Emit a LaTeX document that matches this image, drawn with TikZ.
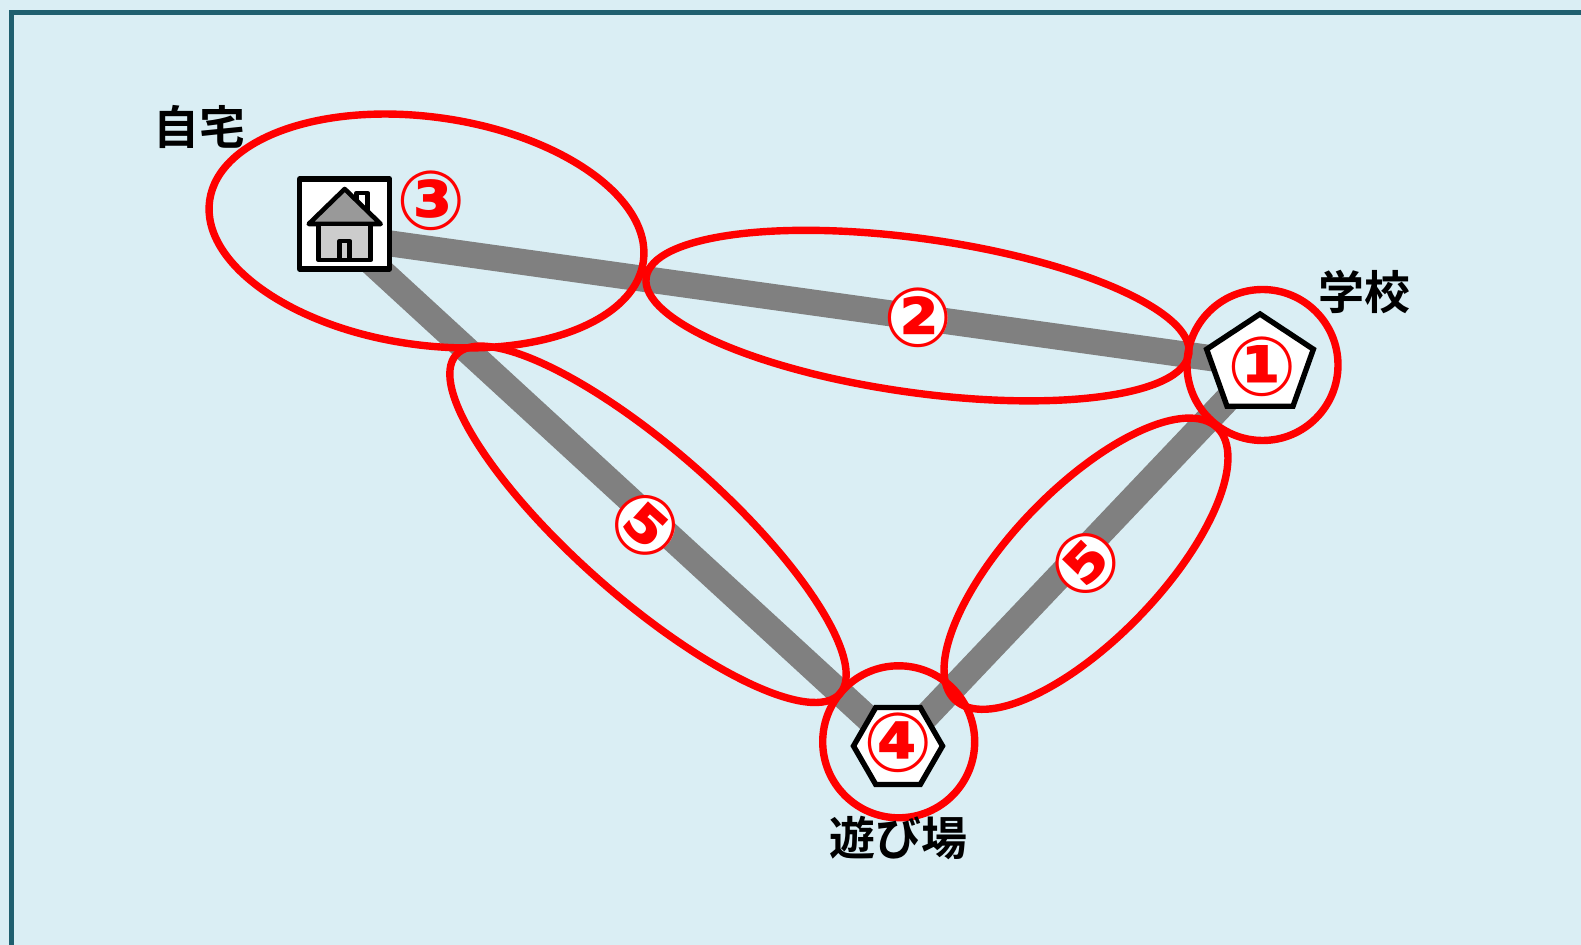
\documentclass[tikz,border=0pt]{standalone}
\usepackage{fontspec}
\usepackage{xcolor}
\usetikzlibrary{shapes.geometric,backgrounds}
\setmainfont{Noto Sans CJK JP}[BoldFont={Noto Sans CJK JP Bold}]
\newfontfamily\numfont{DejaVu Sans}
\definecolor{frameteal}{HTML}{1F5F6F}
\definecolor{skyback}{HTML}{DAEEF4}
\definecolor{roadgray}{HTML}{808080}
\begin{document}
\begin{tikzpicture}[x=0.5pt, y=-0.5pt]
  \tikzset{
    road/.style={draw=roadgray, line width=13pt},
    ring/.style={draw=red, line width=3.7pt},
    site/.style={draw, fill=white, line width=2.7pt, inner sep=0pt},
    place/.style={font=\bfseries\fontsize{23pt}{24pt}\selectfont},
    num/.style={text=red, inner sep=0pt, font=\numfont\bfseries\fontsize{41pt}{43pt}\selectfont}
  }
  \useasboundingbox (0, 0) rectangle (1581, 945);

  \node [site, rectangle, line join=round, minimum size=45pt] (home) at (344.7, 224) {};
  \node [site, regular polygon, regular polygon sides=5, minimum size=51pt, xscale=1.1, transform shape] (school) at (1260, 365) {};
  \node [site, regular polygon, regular polygon sides=6, minimum size=44.5pt] (park) at (898, 746) {};
  \coordinate (homeport) at (344, 237);

  % house
  \begin{scope}[shift={(home.center)}, line width=2.3pt, line join=round]
    \draw [fill=white] (12, -20) -- (12, -31) -- (23, -31) -- (23, -12);
    \draw [fill=gray!80] (-36, 0) -- (0, -35) -- (36, 0) -- cycle;
    \draw [fill=black!20] (-26, 0) rectangle (26, 36);
    \draw (-5, 35) -- (-5, 17) -- (5, 17) -- (5, 35);
  \end{scope}

  \draw [ring] (426.5, 231) [rotate around={-8:(426.5, 231)}] ellipse [x radius=219, y radius=114];
  \draw [ring] (917.5, 315.6) [rotate around={-8:(917.5, 315.6)}] ellipse [x radius=274, y radius=77];
  \draw [ring] (648, 524.3) [rotate around={-41.4:(648, 524.3)}] ellipse [x radius=256, y radius=74];
  \draw [ring] (1086, 563.7) [rotate around={46:(1086, 563.7)}] ellipse [x radius=189, y radius=75];
  \draw [ring] (1262.5, 365) circle [radius=75.5];
  \draw [ring] (898.7, 741.8) circle [radius=76];

  \node [place] (homelabel) at (199, 127) {自宅};
  \node [place] (schoollabel) at (1364, 292) {学校};
  \node [place] (parklabel) at (898, 838) {遊び場};

  \node [num] (n1) at (1262, 366.7) {①};
  \node [num] (n2) at (918.6, 317.6) {②};
  \node [num] (n3) at (431.7, 201) {③};
  \node [num] (n4) at (898, 743) {④};
  \node [num, rotate=-42] (n5a) at (646, 525) {⑤};
  \node [num, rotate=46] (n5b) at (1086, 563.6) {⑤};

  \begin{scope}[on background layer]
    \fill [skyback] (0, 0) rectangle (1581, 945);
    \draw [frameteal, line width=2.6pt] (11.5, 945) -- (11.5, 12.5) -- (1581, 12.5);
    \draw [road] (homeport) -- (school.center);
    \draw [road] (homeport) -- (park.center);
    \draw [road] (school.center) -- (park.center);
    \foreach \n in {n2, n5a, n5b} {
      \fill [white] (\n.center) circle [radius=29];
    }
  \end{scope}
\end{tikzpicture}
\end{document}
